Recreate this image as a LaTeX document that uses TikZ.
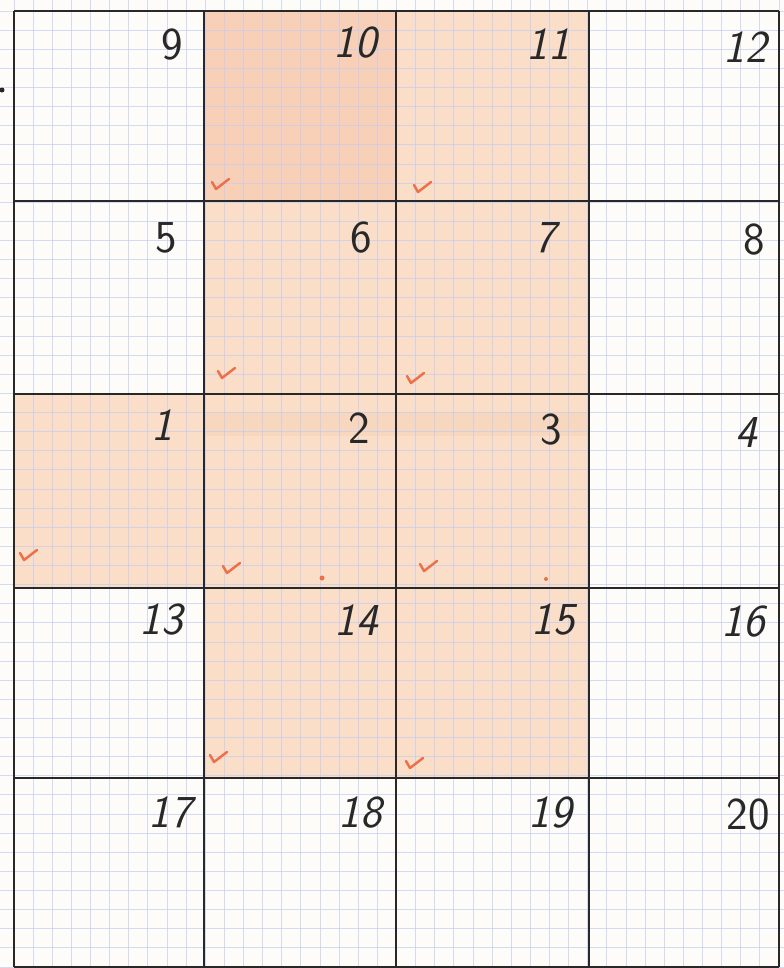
\documentclass[tikz,border=0pt]{standalone}
\usepackage{tikz}

\definecolor{paper}{RGB}{253,252,249}
\definecolor{graphblue}{RGB}{196,204,240}
\definecolor{crayon}{RGB}{250,222,200}
\definecolor{crayondeep}{RGB}{246,200,172}
\definecolor{tickred}{RGB}{238,112,72}
\definecolor{ink}{RGB}{40,40,40}

\tikzset{
  cellno/.style={anchor=east, inner sep=0pt, text=ink, font=\fontsize{26}{26}\selectfont\sffamily},
  cellnoslant/.style={cellno, font=\fontsize{26}{26}\selectfont\sffamily\itshape},
  tickmark/.pic={\draw[tickred, line width=1.4pt, line cap=round, line join=round] (-4,-5) -- (0,2) -- (13,-8);}
}

\begin{document}
\begin{tikzpicture}[x=0.02cm, y=-0.02cm]
\useasboundingbox (0,0) rectangle (784,968);
\fill[paper] (0,0) rectangle (784,968);

% crayon shading
\fill[crayon] (204,11) rectangle (589,778);
\fill[crayon] (14,394) rectangle (204,588);
\fill[crayondeep, opacity=0.6] (204,11) rectangle (396,201);
\fill[crayondeep, opacity=0.3] (204,412) rectangle (589,436);

% graph paper
\foreach \i in {0,...,40} \draw[graphblue, line width=0.5pt, opacity=0.7] (14+19.125*\i,0) -- (14+19.125*\i,968);
\foreach \j in {0,...,50} \draw[graphblue, line width=0.5pt, opacity=0.7] (0,11+19.12*\j) -- (784,11+19.12*\j);

% main grid
\foreach \x in {14,204,396,589,779} \draw[ink, line width=1.6pt] (\x,11) -- (\x,967);
\foreach \y in {11,201,394,588,778,967} \draw[ink, line width=1.6pt] (14,\y) -- (779,\y);

% ticks
\pic at (216,187) {tickmark}; \pic at (418,190) {tickmark};
\pic at (222,376) {tickmark}; \pic at (411,381) {tickmark};
\pic at (24,558) {tickmark}; \pic at (227,571) {tickmark}; \pic at (424,569) {tickmark};
\pic at (214,760) {tickmark}; \pic at (410,766) {tickmark};
\fill[tickred] (322,578) circle (2.5); \fill[tickred] (546,579) circle (2);
\fill[ink] (2,90) circle (2.5);

% cell numbers
\node[cellno] (n9) at (183,45) {9};
\node[cellnoslant] (n10) at (377,43) {10};
\node[cellnoslant] (n11) at (570,44) {11};
\node[cellnoslant] (n12) at (767,47) {12};
\node[cellno] (n5) at (177,238) {5};
\node[cellno] (n6) at (372,238) {6};
\node[cellnoslant] (n7) at (556,238) {7};
\node[cellno] (n8) at (765,240) {8};
\node[cellnoslant] (n1) at (173,425) {1};
\node[cellno] (n2) at (370,428) {2};
\node[cellno] (n3) at (562,430) {3};
\node[cellnoslant] (n4) at (757,433) {4};
\node[cellnoslant] (n13) at (183,620) {13};
\node[cellnoslant] (n14) at (378,620) {14};
\node[cellnoslant] (n15) at (575,620) {15};
\node[cellnoslant] (n16) at (765,622) {16};
\node[cellnoslant] (n17) at (192,812) {17};
\node[cellnoslant] (n18) at (382,813) {18};
\node[cellnoslant] (n19) at (572,813) {19};
\node[cellno] (n20) at (770,815) {20};
\end{tikzpicture}
\end{document}
